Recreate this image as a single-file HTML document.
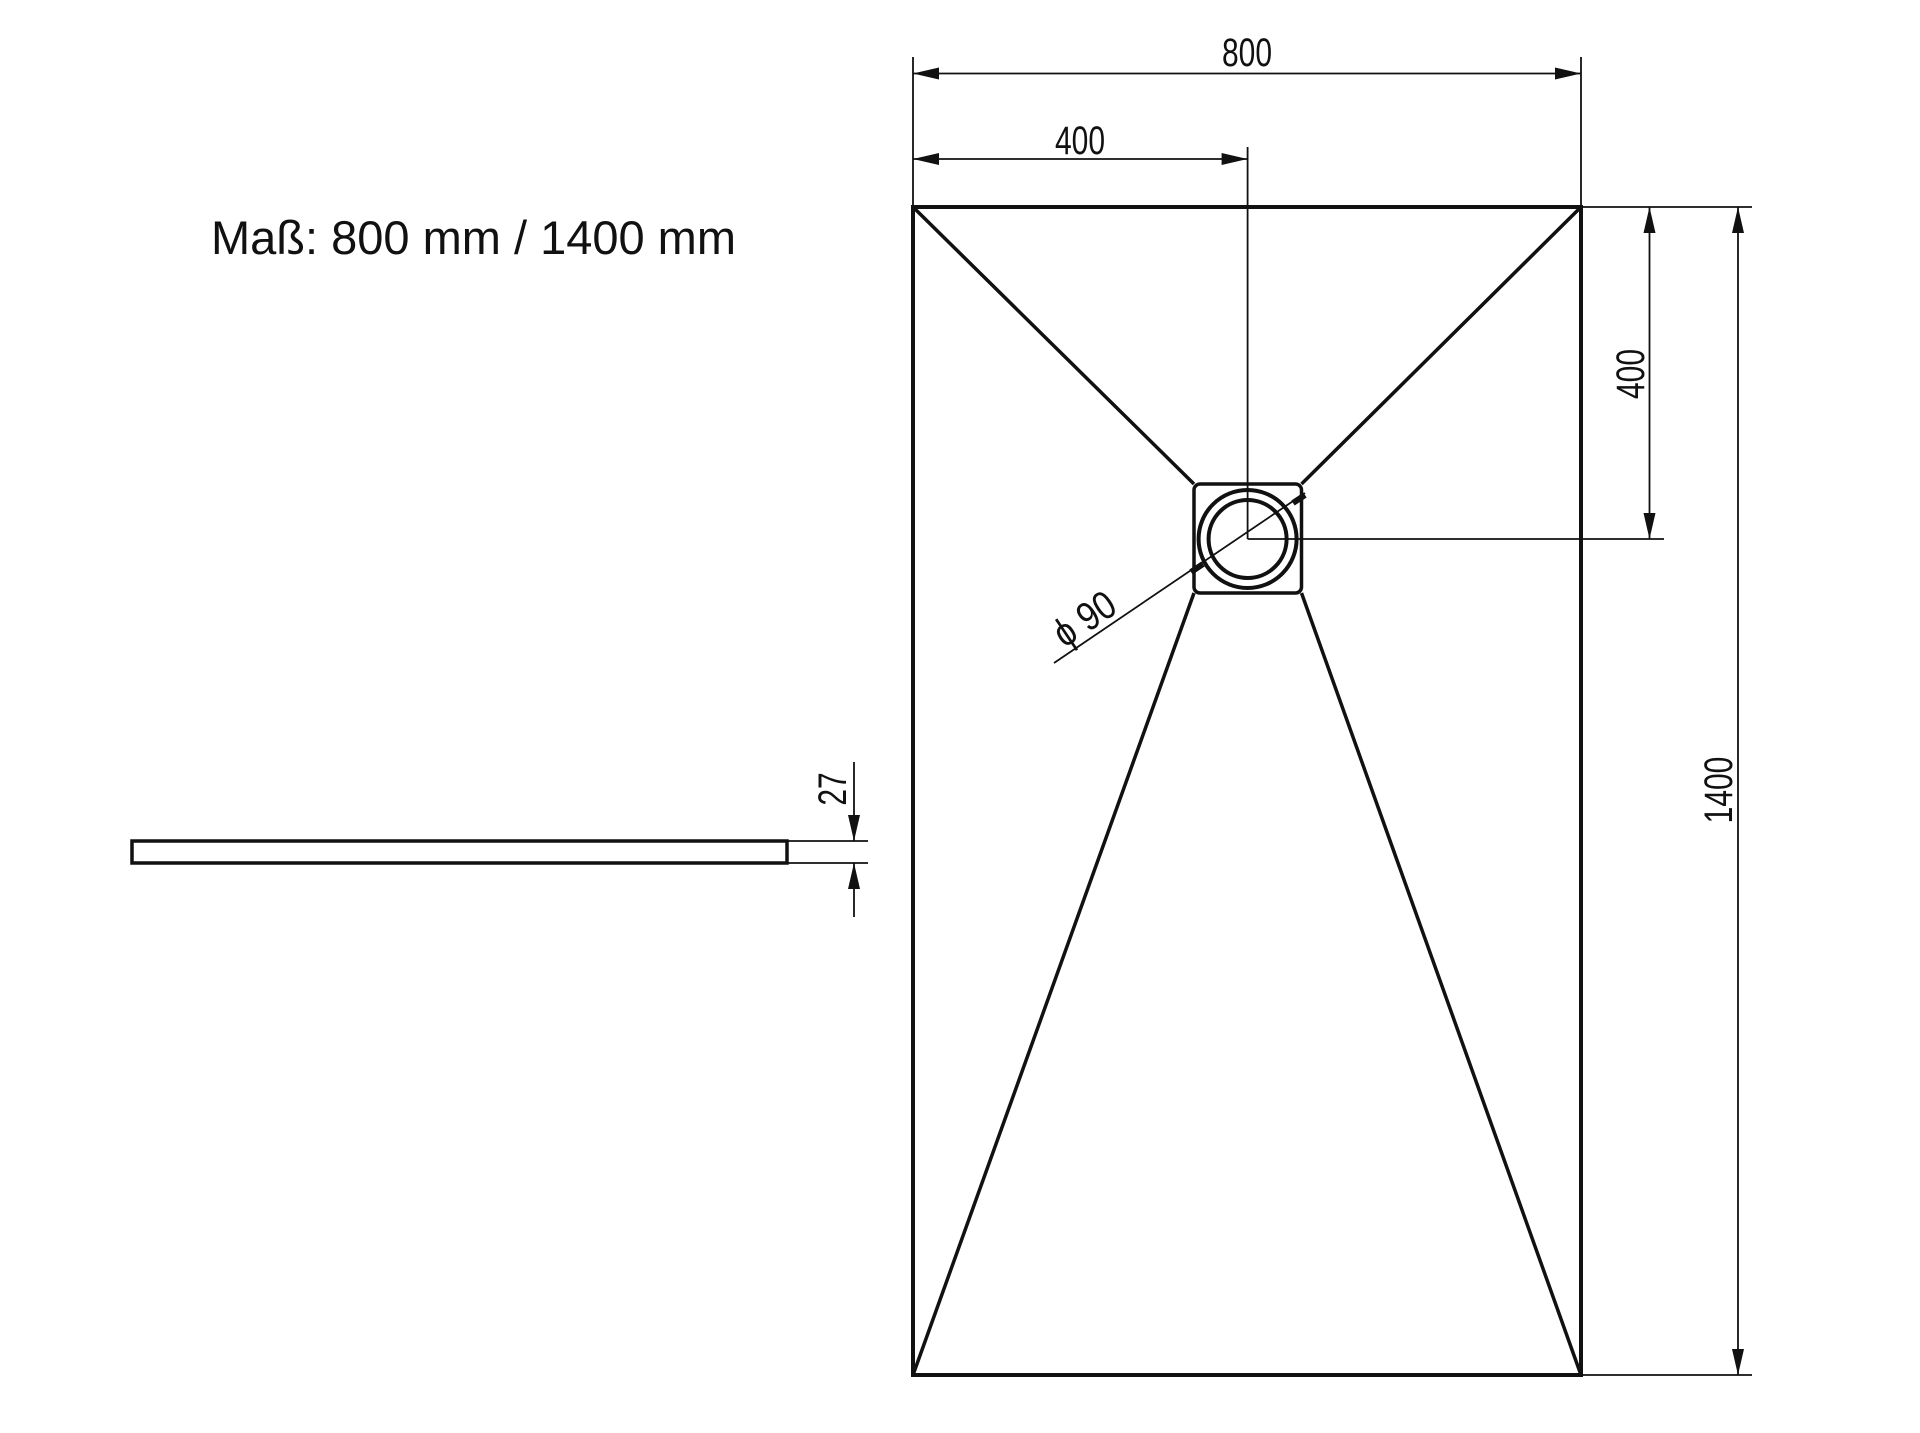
<!DOCTYPE html>
<html><head><meta charset="utf-8"><style>
html,body{margin:0;padding:0;background:#fff;}
svg{display:block;}
.d{font-family:"Liberation Sans Narrow","Liberation Sans",sans-serif;font-size:40px;fill:#111;}
</style></head><body>
<svg width="1920" height="1433" viewBox="0 0 1920 1433" xmlns="http://www.w3.org/2000/svg">
<defs>
<marker id="a" viewBox="0 0 26 12" refX="26" refY="6" markerWidth="26" markerHeight="12" markerUnits="userSpaceOnUse" orient="auto-start-reverse"><path d="M0,0 L26,6 L0,12 z" fill="#111"/></marker>
</defs>
<text x="211" y="254" font-family="Liberation Sans, sans-serif" font-size="47" fill="#111">Maß: 800 mm / 1400 mm</text>
<g stroke="#111" fill="none">
<rect x="913" y="207" width="668" height="1168" stroke-width="4"/>
<path d="M913,207 L1194,484 M1581,207 L1301.5,484 M1194,593 L913,1375 M1301.5,593 L1581,1375" stroke-width="3.5"/>
<rect x="1194" y="484" width="107.5" height="109" rx="6" stroke-width="3.5"/>
<circle cx="1247.6" cy="539" r="49" stroke-width="4"/>
<circle cx="1247.6" cy="539" r="39" stroke-width="4"/>
<g stroke-width="1.8">
<path d="M913,57 V207 M1581,57 V207 M1247.6,147 V539 M1247.6,539 H1664 M1581,207 H1752 M1581,1375 H1752"/>
<path d="M913,73.5 H1581" marker-start="url(#a)" marker-end="url(#a)"/>
<path d="M913,159 H1247.6" marker-start="url(#a)" marker-end="url(#a)"/>
<path d="M1649.5,207 V539" marker-start="url(#a)" marker-end="url(#a)"/>
<path d="M1738,207 V1375" marker-start="url(#a)" marker-end="url(#a)"/>
<path d="M1054,663 L1305,493"/>
<path d="M1191,572 L1203,564" stroke-width="6"/>
<path d="M1293,503 L1305,495" stroke-width="6"/>
<path d="M787,841 H868 M787,863 H868"/>
<path d="M854,762 V841" marker-end="url(#a)"/>
<path d="M854,917 V863" marker-end="url(#a)"/>
</g>
<rect x="132" y="841" width="655" height="22" stroke-width="3.5"/>
</g>
<text class="d" text-anchor="middle" transform="translate(1247,66) scale(0.75,1)">800</text>
<text class="d" text-anchor="middle" transform="translate(1080,154) scale(0.75,1)">400</text>
<text class="d" text-anchor="middle" transform="translate(1644,374) rotate(-90) scale(0.75,1)">400</text>
<text class="d" text-anchor="middle" transform="translate(1732,790) rotate(-90) scale(0.75,1)">1400</text>
<text class="d" text-anchor="middle" transform="translate(846,789) rotate(-90) scale(0.75,1)">27</text>
<text class="d" text-anchor="middle" font-size="46" transform="translate(1092,630) rotate(-34) scale(0.85,1)">ϕ  90</text>
</svg>
</body></html>
